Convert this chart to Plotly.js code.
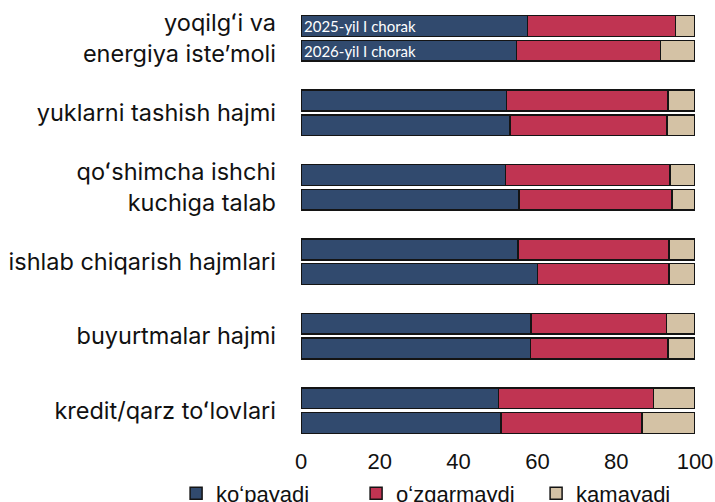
<!DOCTYPE html>
<html>
<head>
<meta charset="utf-8">
<script src="https://cdn.plot.ly/plotly-3.0.1.min.js"></script>
<style>html,body{margin:0;padding:0;background:#fff;}#chart{width:715px;height:502px;}</style>
</head>
<body>
<div id="chart"></div>
<script>
const categories = [
  "yoqilgʻi va<br>energiya isteʼmoli",
  "yuklarni tashish hajmi",
  "qoʻshimcha ishchi<br>kuchiga talab",
  "ishlab chiqarish hajmlari",
  "buyurtmalar hajmi",
  "kredit/qarz toʻlovlari"
];
const periods = ["2025-yil I chorak", "2026-yil I chorak"];
const seriesNames = ["koʻpayadi", "oʻzgarmaydi", "kamayadi"];
const seriesColors = ["#314a6e", "#c03452", "#d4c2a5"];

// values per category: [2025, 2026]
const increase2025 = [57.5, 52.1, 51.9, 55.1, 58.4, 50.1];
const increase2026 = [54.7, 53.1, 55.3, 60.0, 58.2, 50.8];
const same2025     = [37.5, 41.0, 41.7, 38.3, 34.4, 39.4];
const same2026     = [36.6, 39.8, 38.9, 33.4, 34.9, 35.7];
const decrease2025 = [5.0, 6.9, 6.4, 6.6, 7.2, 10.5];
const decrease2026 = [8.7, 7.1, 5.8, 6.6, 6.9, 13.5];

const seriesData = [
  [increase2025, increase2026],
  [same2025, same2026],
  [decrease2025, decrease2026]
];

const pitch = 3;
const yPos = [], tickVals = [];
categories.forEach((c, g) => {
  periods.forEach((p, k) => yPos.push(g * pitch + k));
  tickVals.push(g * pitch + 0.5);
});

const traces = seriesNames.map((name, s) => {
  const xs = [], texts = [];
  categories.forEach((c, g) => {
    periods.forEach((p, k) => {
      xs.push(seriesData[s][k][g]);
      texts.push(s === 0 && g === 0 ? p : "");
    });
  });
  return {
    type: "bar",
    orientation: "h",
    name: name,
    x: xs,
    y: yPos,
    width: 0.84,
    text: texts,
    textposition: s === 0 ? "inside" : "none",
    insidetextanchor: "start",
    constraintext: "none",
    textfont: {family: "Lato, 'Open Sans', sans-serif", size: 15, color: "#ffffff"},
    hoverinfo: "x+name",
    marker: {color: seriesColors[s], line: {color: "#141414", width: 1.5}}
  };
});

const layout = {
  width: 715,
  height: 502,
  barmode: "stack",
  margin: {l: 300.7, r: 20.3, t: 10.6, b: 63.6, autoexpand: false},
  paper_bgcolor: "#ffffff",
  plot_bgcolor: "#ffffff",
  showlegend: true,
  legend: {
    orientation: "h",
    x: -0.317, xanchor: "left",
    y: -0.13, yanchor: "middle",
    font: {family: "'Liberation Sans', Arial, sans-serif", size: 22, color: "#111111"},
    traceorder: "normal",
    entrywidth: 135
  },
  xaxis: {
    range: [0, 100],
    tickvals: [0, 20, 40, 60, 80, 100],
    showgrid: false,
    zeroline: false,
    showline: false,
    ticks: "",
    ticklabelstandoff: 8,
    tickfont: {family: "'Liberation Sans', Arial, sans-serif", size: 22, color: "#111111"}
  },
  yaxis: {
    range: [16.6, -0.6],
    tickvals: tickVals,
    ticktext: categories,
    showgrid: false,
    zeroline: false,
    showline: false,
    ticks: "",
    ticklabelstandoff: 24,
    tickfont: {family: "Inter, sans-serif", size: 23.5, color: "#111111"}
  }
};

Plotly.newPlot("chart", traces, layout, {staticPlot: true, displayModeBar: false});
</script>
</body>
</html>
